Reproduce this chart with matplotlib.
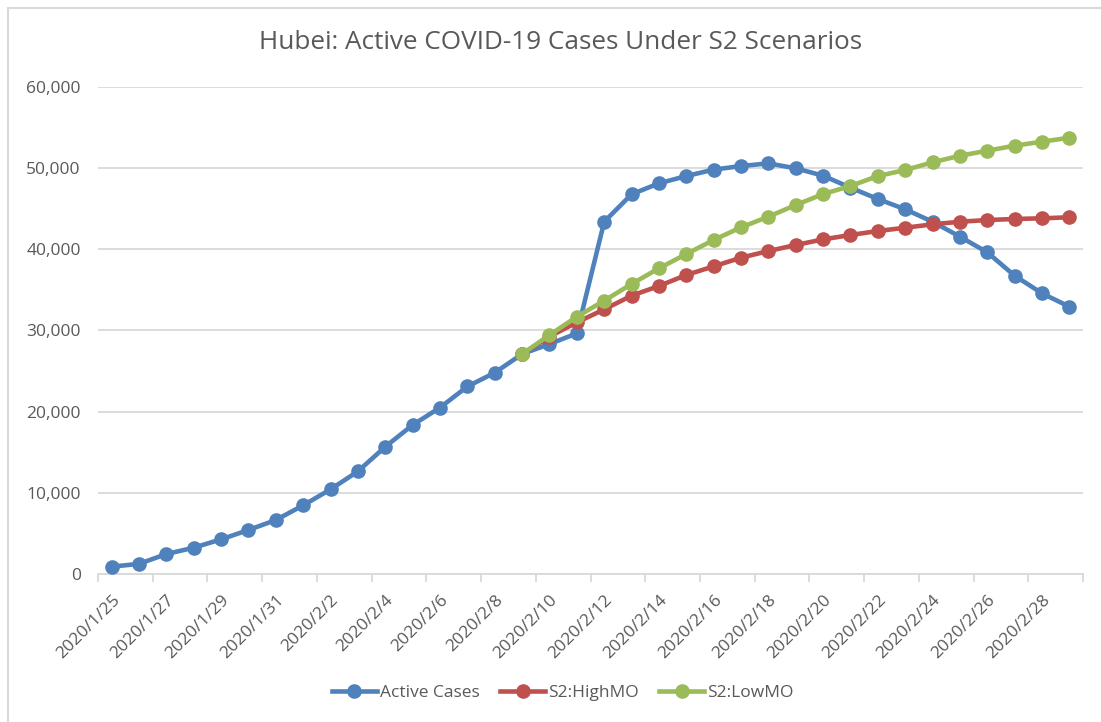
import matplotlib
matplotlib.use("Agg")
from matplotlib import pyplot as plt
from matplotlib.lines import Line2D
from matplotlib.ticker import FuncFormatter, FixedLocator
import numpy as np
import pandas as pd

plt.rcParams['font.family'] = ['Open Sans', 'DejaVu Sans']

dates = pd.date_range("2020-01-25", periods=36)
date_labels = [f"{d.year}/{d.month}/{d.day}" for d in dates]

active_cases = [900, 1250, 2460, 3240, 4270, 5420, 6650, 8460, 10430, 12650,
                15680, 18360, 20500, 23100, 24800, 27100, 28330, 29650, 43400, 46780,
                48130, 49030, 49820, 50260, 50590, 49980, 49070, 47600, 46200, 44930,
                43400, 41560, 39630, 36750, 34580, 32930]

nan = float('nan')
high_mo = [nan] * 15 + [27100, 29250, 31000, 32600, 34290, 35480, 36840, 37900, 38970,
                        39790, 40530, 41230, 41760, 42260, 42660, 43080, 43400, 43610,
                        43740, 43820, 43950]
low_mo = [nan] * 15 + [27100, 29440, 31700, 33670, 35730, 37660, 39420, 41150, 42710,
                       44020, 45460, 46810, 47800, 49030, 49770, 50720, 51530, 52150,
                       52770, 53260, 53750]

series = [("Active Cases", active_cases, "#4F81BD"),
          ("S2:HighMO", high_mo, "#C0504D"),
          ("S2:LowMO", low_mo, "#9BBB59")]

grey = "#595959"
grid = "#D9D9D9"

fig = plt.figure(figsize=(11.01, 7.22), dpi=100)
ax = fig.add_axes([0.089, 0.205, 0.8947, 0.6745])

x = np.arange(len(date_labels))
handles = []
for name, vals, col in series:
    ax.plot(x, vals, color=col, lw=3.3, marker='o', ms=9.5, solid_capstyle='round', zorder=3)
    handles.append(Line2D([], [], color=col, lw=3.3, marker='o', ms=9.5, label=name))

ax.set_xlim(-0.5, len(x) - 0.5)
ax.set_ylim(0, 60000)
ax.set_yticks(np.arange(0, 60001, 10000))
ax.yaxis.set_major_formatter(FuncFormatter(lambda v, p: f"{int(v):,}"))
ax.yaxis.grid(True, color=grid, lw=1.3)
ax.set_axisbelow(True)

ax.set_xticks(x[::2])
ax.set_xticklabels(date_labels[::2], rotation=45, ha='right', rotation_mode='anchor')
ax.xaxis.set_minor_locator(FixedLocator(np.arange(-0.5, len(x), 2)))
ax.tick_params(axis='x', which='major', length=0, pad=13, labelsize=12.5, labelcolor=grey)
ax.tick_params(axis='x', which='minor', length=6, width=1.3, color=grid)
ax.tick_params(axis='y', length=0, pad=12.5, labelsize=12.5, labelcolor=grey)

for s in ['top', 'right', 'left']:
    ax.spines[s].set_visible(False)
ax.spines['bottom'].set_color(grid)
ax.spines['bottom'].set_linewidth(1.3)

fig.suptitle("Hubei: Active COVID-19 Cases Under S2 Scenarios", x=0.509, y=0.958,
             fontsize=18.8, color=grey)

fig.legend(handles=handles, loc='center', bbox_to_anchor=(0.511, 0.04), ncol=3, frameon=False,
           fontsize=12.5, labelcolor=grey, handlelength=2.6, handletextpad=0.15,
           columnspacing=1.2)

# chart area border (left and top edges visible)
fig.add_artist(Line2D([8 / 1101, 8 / 1101], [0, 1 - 8 / 722], color=grid, lw=1.5, transform=fig.transFigure))
fig.add_artist(Line2D([8 / 1101, 1], [1 - 8 / 722, 1 - 8 / 722], color=grid, lw=1.5, transform=fig.transFigure))

fig.savefig("out.png", dpi=100)
